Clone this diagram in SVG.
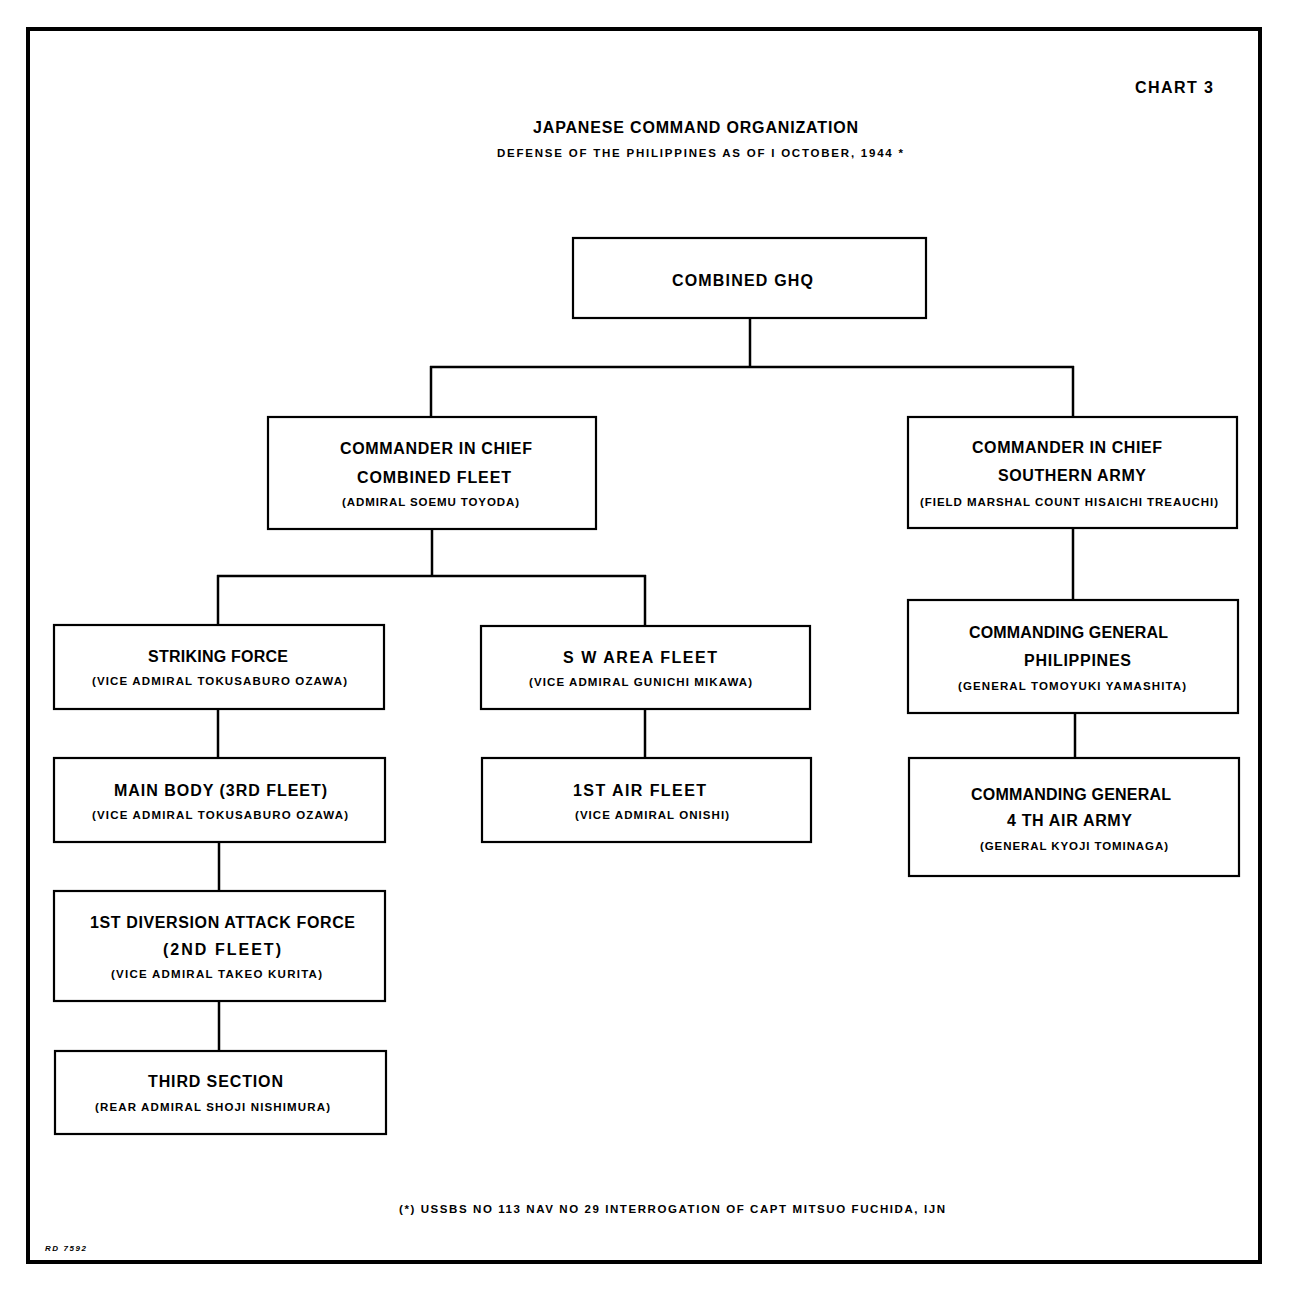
<svg xmlns="http://www.w3.org/2000/svg" width="1300" height="1295" viewBox="0 0 1300 1295">
<style>
.box{fill:#fff;stroke:#000;stroke-width:2.2}
.t{font-family:"Liberation Sans",Arial,sans-serif;font-weight:bold;font-size:16px;fill:#000}
.s{font-family:"Liberation Sans",Arial,sans-serif;font-weight:bold;font-size:11.5px;fill:#000}
.c line{stroke:#000;stroke-width:2.5}
</style>
<rect x="0" y="0" width="1300" height="1295" fill="#fff"/>
<rect x="28" y="29" width="1232" height="1233" fill="none" stroke="#000" stroke-width="4"/>
<text class="t" x="1135" y="93" textLength="78" lengthAdjust="spacing">CHART 3</text>
<text class="t" x="533" y="133" font-size="16.5" textLength="325" lengthAdjust="spacing">JAPANESE COMMAND ORGANIZATION</text>
<text class="s" x="497" y="157" textLength="406" lengthAdjust="spacing">DEFENSE OF THE PHILIPPINES AS OF I OCTOBER, 1944 *</text>
<g class="c" id="connectors">
<line x1="750" y1="318" x2="750" y2="367"/>
<line x1="430" y1="367" x2="1074" y2="367"/>
<line x1="431" y1="366" x2="431" y2="417"/>
<line x1="1073" y1="366" x2="1073" y2="417"/>
<line x1="432" y1="529" x2="432" y2="576"/>
<line x1="217" y1="576" x2="646" y2="576"/>
<line x1="218" y1="575" x2="218" y2="625"/>
<line x1="645" y1="575" x2="645" y2="626"/>
<line x1="218" y1="709" x2="218" y2="758"/>
<line x1="219" y1="842" x2="219" y2="891"/>
<line x1="219" y1="1001" x2="219" y2="1051"/>
<line x1="645" y1="709" x2="645" y2="758"/>
<line x1="1073" y1="528" x2="1073" y2="600"/>
<line x1="1075" y1="713" x2="1075" y2="758"/>
</g>
<g id="ghq">
<rect class="box" x="573" y="238" width="353" height="80"/>
<text class="t" x="672" y="286" textLength="141" lengthAdjust="spacing">COMBINED GHQ</text>
</g>
<g id="combined-fleet">
<rect class="box" x="268" y="417" width="328" height="112"/>
<text class="t" x="340" y="454" textLength="192" lengthAdjust="spacing">COMMANDER IN CHIEF</text>
<text class="t" x="357" y="483" textLength="154" lengthAdjust="spacing">COMBINED FLEET</text>
<text class="s" x="342" y="506" textLength="177" lengthAdjust="spacing">(ADMIRAL SOEMU TOYODA)</text>
</g>
<g id="southern-army">
<rect class="box" x="908" y="417" width="329" height="111"/>
<text class="t" x="972" y="453" textLength="190" lengthAdjust="spacing">COMMANDER IN CHIEF</text>
<text class="t" x="998" y="481" textLength="148" lengthAdjust="spacing">SOUTHERN ARMY</text>
<text class="s" x="920" y="506" textLength="298" lengthAdjust="spacing">(FIELD MARSHAL COUNT HISAICHI TREAUCHI)</text>
</g>
<g id="striking-force">
<rect class="box" x="54" y="625" width="330" height="84"/>
<text class="t" x="148" y="662" textLength="140" lengthAdjust="spacing">STRIKING FORCE</text>
<text class="s" x="92" y="685" textLength="255" lengthAdjust="spacing">(VICE ADMIRAL TOKUSABURO OZAWA)</text>
</g>
<g id="sw-area-fleet">
<rect class="box" x="481" y="626" width="329" height="83"/>
<text class="t" x="563" y="663" textLength="154" lengthAdjust="spacing">S W AREA FLEET</text>
<text class="s" x="529" y="686" textLength="223" lengthAdjust="spacing">(VICE ADMIRAL GUNICHI MIKAWA)</text>
</g>
<g id="main-body">
<rect class="box" x="54" y="758" width="331" height="84"/>
<text class="t" x="114" y="796" textLength="213" lengthAdjust="spacing">MAIN BODY (3RD FLEET)</text>
<text class="s" x="92" y="819" textLength="256" lengthAdjust="spacing">(VICE ADMIRAL TOKUSABURO OZAWA)</text>
</g>
<g id="first-air-fleet">
<rect class="box" x="482" y="758" width="329" height="84"/>
<text class="t" x="573" y="796" textLength="133" lengthAdjust="spacing">1ST AIR FLEET</text>
<text class="s" x="575" y="819" textLength="154" lengthAdjust="spacing">(VICE ADMIRAL ONISHI)</text>
</g>
<g id="first-diversion">
<rect class="box" x="54" y="891" width="331" height="110"/>
<text class="t" x="90" y="928" textLength="265" lengthAdjust="spacing">1ST DIVERSION ATTACK FORCE</text>
<text class="t" x="163" y="955" textLength="118" lengthAdjust="spacing">(2ND FLEET)</text>
<text class="s" x="111" y="978" textLength="211" lengthAdjust="spacing">(VICE ADMIRAL TAKEO KURITA)</text>
</g>
<g id="third-section">
<rect class="box" x="55" y="1051" width="331" height="83"/>
<text class="t" x="148" y="1087" textLength="135" lengthAdjust="spacing">THIRD SECTION</text>
<text class="s" x="95" y="1111" textLength="235" lengthAdjust="spacing">(REAR ADMIRAL SHOJI NISHIMURA)</text>
</g>
<g id="cg-philippines">
<rect class="box" x="908" y="600" width="330" height="113"/>
<text class="t" x="969" y="638" textLength="199" lengthAdjust="spacing">COMMANDING GENERAL</text>
<text class="t" x="1024" y="666" textLength="107" lengthAdjust="spacing">PHILIPPINES</text>
<text class="s" x="958" y="690" textLength="228" lengthAdjust="spacing">(GENERAL TOMOYUKI YAMASHITA)</text>
</g>
<g id="cg-4th-air-army">
<rect class="box" x="909" y="758" width="330" height="118"/>
<text class="t" x="971" y="800" textLength="200" lengthAdjust="spacing">COMMANDING GENERAL</text>
<text class="t" x="1007" y="826" textLength="125" lengthAdjust="spacing">4 TH AIR ARMY</text>
<text class="s" x="980" y="850" textLength="188" lengthAdjust="spacing">(GENERAL KYOJI TOMINAGA)</text>
</g>
<text class="s" x="399" y="1213" textLength="546" lengthAdjust="spacing">(*) USSBS NO 113 NAV NO 29 INTERROGATION OF CAPT MITSUO FUCHIDA, IJN</text>
<text x="45" y="1251" font-family="Liberation Sans, Arial, sans-serif" font-weight="bold" font-style="italic" font-size="8" textLength="41" lengthAdjust="spacing">RD 7592</text>
</svg>
